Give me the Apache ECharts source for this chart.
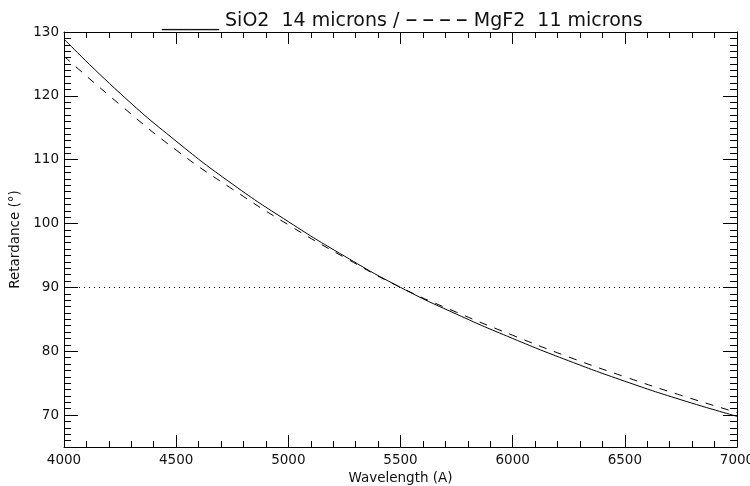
<!DOCTYPE html>
<html>
<head>
<meta charset="utf-8">
<script src="https://cdn.jsdelivr.net/npm/echarts@6/dist/echarts.min.js"></script>
<style>html,body{margin:0;padding:0;background:#fff}#c{width:750px;height:486px}</style>
</head>
<body>
<div id="c"></div>
<script>
const wavelengths = [4000, 4250, 4500, 4750, 5000, 5250, 5500, 5750, 6000, 6250, 6500, 6750, 7000];
const sio2 = [128.9, 120.4, 112.9, 106.2, 100.3, 94.9, 90.0, 85.8, 82.0, 78.5, 75.3, 72.4, 69.8];
const mgf2 = [126.2, 118.6, 111.5, 105.4, 99.8, 94.7, 90.0, 86.1, 82.5, 79.1, 76.0, 73.1, 70.4];
const yMajorTicks = [70, 80, 90, 100, 110, 120, 130];
const refLevel = 90;

const font = 'DejaVu Sans';
const black = '#000';
const labelStyle = {color: '#111', fontFamily: font, fontSize: 13.5};

function xAx(pos, labels) {
  return {
    type: 'value', position: pos, min: 4000, max: 7000, interval: 500,
    axisLine: {show: true, onZero: false, lineStyle: {color: black, width: 1}},
    axisTick: {show: true, inside: true, length: 12, lineStyle: {color: black}},
    minorTick: {show: true, splitNumber: 5, length: 6, lineStyle: {color: black}},
    splitLine: {show: false},
    axisLabel: labels ? Object.assign({show: true, margin: 6, formatter: v => String(v)}, labelStyle) : {show: false},
    name: labels ? 'Wavelength (A)' : '',
    nameLocation: 'middle', nameGap: 21,
    nameTextStyle: labelStyle
  };
}
function yMajor(pos, labels) {
  return {
    type: 'value', position: pos, min: 65, max: 130,
    axisLine: {show: true, onZero: false, lineStyle: {color: black, width: 1}},
    axisTick: {show: true, inside: true, length: 14, customValues: yMajorTicks, lineStyle: {color: black}},
    splitLine: {show: false},
    axisLabel: labels ? Object.assign({show: true, margin: 5, customValues: yMajorTicks, formatter: v => String(v)}, labelStyle) : {show: false},
    name: labels ? 'Retardance (°)' : '',
    nameLocation: 'middle', nameGap: 33,
    nameTextStyle: labelStyle
  };
}
function yMinor(pos) {
  return {
    type: 'value', position: pos, min: 65, max: 130, interval: 1,
    axisLine: {show: false},
    axisTick: {show: true, inside: true, length: 7, lineStyle: {color: black}},
    splitLine: {show: false},
    axisLabel: {show: false}
  };
}

const chart = echarts.init(document.getElementById('c'), null, {renderer: 'canvas'});
chart.setOption({
  animation: false,
  backgroundColor: '#fff',
  title: {
    text: '{t|______ SiO2  14 microns / }{d|–\u2009–\u2009–\u2009–}{t| MgF2  11 microns}',
    left: 157, top: 4,
    textStyle: {
      color: '#111', fontFamily: font, fontSize: 19, fontWeight: 'normal',
      rich: {
        t: {color: '#111', fontFamily: font, fontSize: 19},
        d: {color: '#111', fontFamily: font, fontSize: 24}
      }
    }
  },
  grid: {left: 64, right: 13, top: 32, bottom: 39, containLabel: false, outerBoundsMode: 'none'},
  xAxis: [xAx('bottom', true), xAx('top', false)],
  yAxis: [yMajor('left', true), yMinor('left'), yMajor('right', false), yMinor('right')],
  series: [
    {
      name: 'SiO2', type: 'line', smooth: true, showSymbol: false,
      data: wavelengths.map((w, i) => [w, sio2[i]]),
      lineStyle: {color: black, width: 1, type: 'solid'},
      markLine: {
        silent: true, symbol: 'none', label: {show: false},
        lineStyle: {color: black, width: 1, type: [1, 4]},
        data: [{yAxis: refLevel}]
      }
    },
    {
      name: 'MgF2', type: 'line', smooth: true, showSymbol: false,
      data: wavelengths.map((w, i) => [w, mgf2[i]]),
      lineStyle: {color: black, width: 1, type: [8, 8]}
    }
  ]
});
</script>
</body>
</html>
